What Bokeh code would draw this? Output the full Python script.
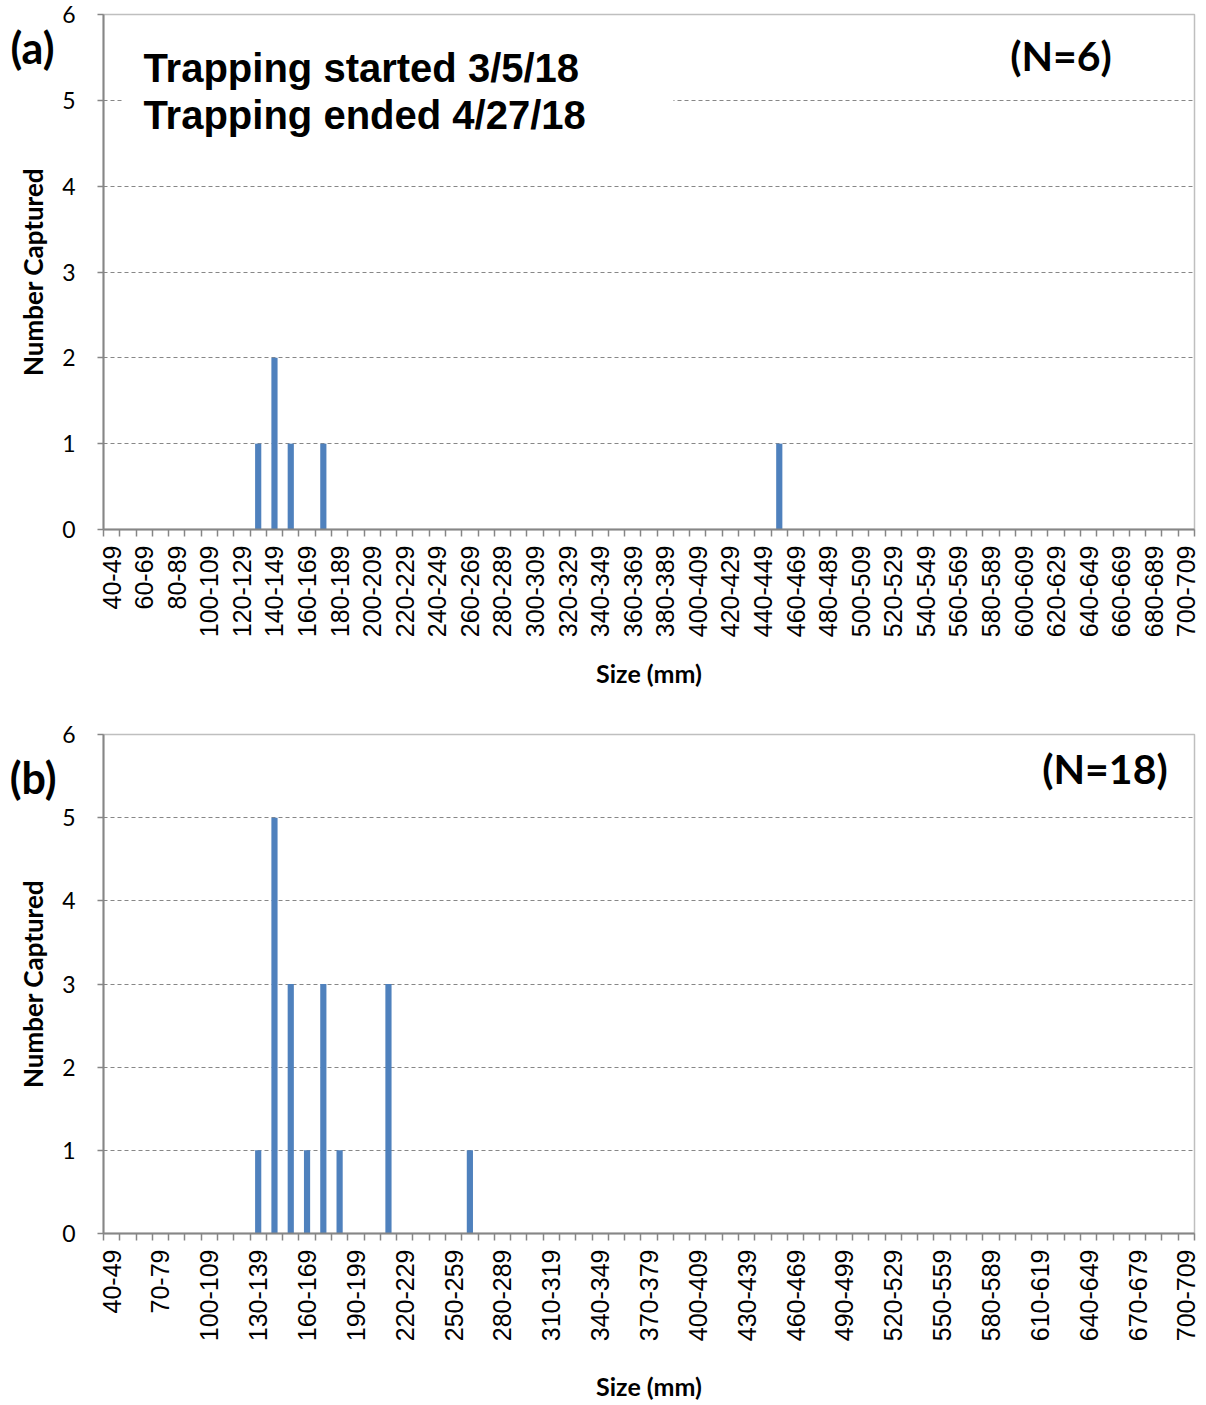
from math import pi
from bokeh.plotting import figure
from bokeh.models import FixedTicker, Label, BoxAnnotation, Range1d, ColumnDataSource, LinearAxis
from bokeh.layouts import column
from bokeh.embed import file_html
from bokeh.resources import INLINE

# ---- data ----
bin_starts = list(range(40, 710, 10))           # size classes 40-49 ... 700-709
categories = [f"{s}-{s + 9}" for s in bin_starts]

# panel (a): non-zero size classes and counts
sizes_a = ["130-139", "140-149", "150-159", "170-179", "450-459"]
counts_a = [1, 2, 1, 1, 1]

# panel (b)
sizes_b = ["130-139", "140-149", "150-159", "160-169", "170-179", "180-189", "210-219", "260-269"]
counts_b = [1, 5, 3, 1, 3, 1, 3, 1]

label_step_a = 2
label_step_b = 3
y_ticks = [0, 1, 2, 3, 4, 5, 6]

BAR = "#4F81BD"
AXIS = "#868686"
GRID = "#878787"
CAL = "Lato"
ARIAL = "Liberation Sans"


def full_counts(sizes, counts):
    lookup = dict(zip(sizes, counts))
    return [lookup.get(c, 0) for c in categories]


def make_fig(sizes, counts, step, height, b_top, b_bottom, b_right, xlab_standoff,
             tag, ntext, tag_y, tag_standoff, n_xy):
    n = len(categories)
    p = figure(width=1206, height=height, x_range=Range1d(0, n), y_range=Range1d(0, 6),
               output_backend="svg", toolbar_location=None,
               min_border_left=103, min_border_right=b_right,
               min_border_top=b_top, min_border_bottom=b_bottom)
    src = ColumnDataSource(dict(x=[i + 0.5 for i in range(n)], top=full_counts(sizes, counts),
                                cat=categories))
    p.vbar(x="x", top="top", width=0.38, source=src, fill_color=BAR, line_color=None)

    p.outline_line_color = "#BFBFBF"
    p.outline_line_width = 1.5
    p.xgrid.visible = False
    p.ygrid.ticker = FixedTicker(ticks=[1, 2, 3, 4, 5])
    p.ygrid.grid_line_color = GRID
    p.ygrid.grid_line_dash = "4 3"
    p.ygrid.grid_line_width = 1

    ya = p.yaxis[0]
    ya.ticker = FixedTicker(ticks=y_ticks)
    ya.axis_line_color = AXIS
    ya.axis_line_width = 2
    ya.major_tick_line_color = AXIS
    ya.major_tick_line_width = 1.5
    ya.major_tick_out = 6
    ya.major_tick_in = 0
    ya.minor_tick_line_color = None
    ya.major_label_standoff = 22
    ya.major_label_text_font = CAL
    ya.major_label_text_font_size = "23px"
    ya.major_label_text_color = "#000000"
    ya.axis_label = "Number Captured"
    ya.axis_label_text_font = CAL
    ya.axis_label_text_font_style = "bold"
    ya.axis_label_text_font_size = "26px"
    ya.axis_label_text_color = "#000000"
    ya.axis_label_standoff = 10

    xa = p.xaxis[0]
    label_idx = list(range(0, n, step))
    xa.ticker = FixedTicker(ticks=[i + 0.5 for i in label_idx], minor_ticks=list(range(n + 1)))
    xa.major_label_overrides = {i + 0.5: categories[i] for i in label_idx}
    xa.major_label_orientation = pi / 2
    xa.major_tick_out = 0
    xa.major_tick_in = 0
    xa.minor_tick_out = 7
    xa.minor_tick_in = 0
    xa.minor_tick_line_color = AXIS
    xa.minor_tick_line_width = 1.5
    xa.axis_line_color = AXIS
    xa.axis_line_width = 2
    xa.major_label_standoff = 9
    xa.major_label_text_font = ARIAL
    xa.major_label_text_font_size = "25px"
    xa.major_label_text_color = "#000000"
    xa.axis_label = "Size (mm)"
    xa.axis_label_text_font = CAL
    xa.axis_label_text_font_style = "bold"
    xa.axis_label_text_font_size = "25px"
    xa.axis_label_text_color = "#000000"
    xa.axis_label_standoff = xlab_standoff

    # panel tag "(a)"/"(b)" carried by an outer, line-less axis on the left
    tag_axis = LinearAxis(ticker=FixedTicker(ticks=[tag_y]),
                          major_label_overrides={tag_y: tag},
                          axis_line_color=None, major_tick_line_color=None,
                          minor_tick_line_color=None, major_tick_out=0, major_tick_in=0,
                          major_label_standoff=tag_standoff,
                          major_label_text_font=CAL, major_label_text_font_style="bold",
                          major_label_text_font_size="43px", major_label_text_color="#000000")
    p.add_layout(tag_axis, "left")

    p.add_layout(Label(x=n_xy[0], y=n_xy[1], text=ntext, text_font=CAL, text_font_style="bold",
                       text_font_size="41px", text_align="center", text_baseline="middle",
                       text_color="#000000"))
    return p


pa = make_fig(sizes_a, counts_a, label_step_a, 700, 14, 171, 9, 18, "(a)", "(N=6)",
              5.62, -40, (58.8, 5.52))
pa.add_layout(BoxAnnotation(left=1.16, right=35.0, bottom=4.62, top=5.75,
                            fill_color="white", fill_alpha=1.0, line_color=None))
pa.add_layout(Label(x=2.45, y=5.38, text="Trapping started 3/5/18", text_font=ARIAL,
                    text_font_style="bold", text_font_size="40px", text_align="left",
                    text_baseline="middle", text_color="#000000"))
pa.add_layout(Label(x=2.45, y=4.83, text="Trapping ended 4/27/18", text_font=ARIAL,
                    text_font_style="bold", text_font_size="40px", text_align="left",
                    text_baseline="middle", text_color="#000000"))

pb = make_fig(sizes_b, counts_b, label_step_b, 705, 34, 172, 12, 27, "(b)", "(N=18)",
              5.48, -42, (61.5, 5.59))

layout = column(pa, pb, spacing=0)
open("out.html", "w").write(file_html(layout, INLINE))
